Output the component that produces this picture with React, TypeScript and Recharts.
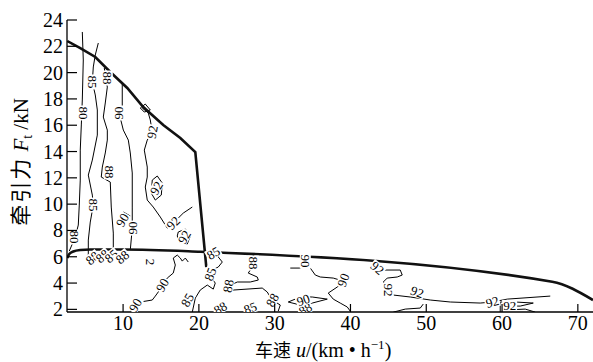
import { ComposedChart, Line, Scatter, XAxis, YAxis, Label } from 'recharts';

type Pt = [number, number];

// axis ticks
const xTicks = [10, 20, 30, 40, 50, 60, 70];
const yTicks = [2, 4, 6, 8, 10, 12, 14, 16, 18, 20, 22, 24];

// external characteristic (thick boundary lines), [speed, force]
const peakLimit: Pt[] = [[2.64, 22.4], [4.35, 21.87], [6.33, 21.19], [8.31, 20.05], [10.55, 18.83], [12.66, 17.38], [15.3, 16.02], [17.55, 15.03], [19.53, 13.96], [20.98, 5.22]];
const ratedLimit: Pt[] = [[2.64, 5.9], [2.9, 6.21], [3.43, 6.4], [4.35, 6.51], [5.67, 6.55], [10.03, 6.55], [20.18, 6.38], [66.62, 4.1], [72, 2.71]];

// efficiency contours (%)
const eff80: Pt[] = [[4.62, 23.09], [4.75, 20.96], [4.62, 17.92], [4.49, 16.02], [4.35, 14.11], [4.35, 11.83], [4.22, 9.93], [4.09, 8.41], [3.69, 7.5], [2.9, 6.43]];
const eff85: Pt[] = [[6.73, 22.25], [6.33, 21.34], [6.07, 20.43], [5.94, 19.29], [6.33, 18.3], [6.6, 17.16], [6.6, 15.25], [5.94, 13.35], [5.41, 12.21], [5.94, 10.69], [6.07, 9.93], [5.67, 8.64], [5.41, 7.27], [5.41, 6.05]];
const eff88: Pt[] = [[7.52, 20.35], [7.65, 19.82], [7.92, 18.9], [7.65, 17.69], [7.39, 16.62], [7.92, 15.63], [7.92, 14.87], [7.65, 13.89], [7.26, 12.82], [7.12, 12.06], [8.31, 11.68], [8.44, 9.78], [8.71, 7.8], [8.71, 6.51]];
const eff90: Pt[] = [[9.89, 19.21], [9.89, 17.38], [9.63, 16.55], [10.03, 15.63], [10.69, 14.87], [10.95, 13.89], [11.21, 12.37], [11.21, 9.78], [11.21, 8.18], [10.95, 6.51]];
const eff90Hook: Pt[] = [[9.23, 8.64], [10.03, 9.4], [10.95, 9.1]];
const eff92: Pt[] = [[12.53, 17.31], [13.32, 16.93], [13.59, 16.4], [13.85, 15.48], [13.19, 14.87], [12.8, 14.11], [13.19, 12.82], [13.19, 12.06], [12.93, 11.3], [13.19, 10.31], [13.98, 9.78], [14.91, 9.02], [15.83, 8.18], [16.62, 8.56], [17.94, 9.32], [19.13, 9.78]];
const eff92Top: Pt[] = [[12.27, 17.31], [12.93, 17.61], [13.59, 17.16], [12.8, 17.0], [12.27, 17.31]];
const eff92LoopA: Pt[] = [[13.85, 11.83], [14.51, 12.14], [15.17, 11.6], [15.04, 10.69], [14.25, 10.31], [13.72, 10.84], [13.85, 11.83]];
const eff92LoopB: Pt[] = [[17.28, 7.88], [18.21, 8.11], [18.87, 7.58], [18.47, 6.97], [17.41, 7.12], [17.15, 7.58], [17.28, 7.88]];
const low90A: Pt[] = [[10.95, 1.87], [12.27, 2.56], [13.85, 2.71], [14.25, 3.01], [14.64, 3.32], [15.17, 3.85], [15.83, 4.38], [16.62, 4.76], [16.89, 5.37], [16.62, 5.9], [17.15, 6.13], [17.55, 5.9], [17.81, 5.67], [18.21, 5.9], [18.6, 5.6]];
const low85: Pt[] = [[19.13, 1.79], [19.53, 2.86], [20.18, 3.47], [21.11, 3.85], [21.9, 3.54], [22.16, 4.0], [21.5, 4.53], [21.77, 4.99], [22.56, 5.22], [23.09, 5.6], [22.56, 5.98], [22.16, 6.28]];
const low88: Pt[] = [[27.18, 6.13], [26.78, 4.99], [26.52, 4.76], [27.7, 4.46], [27.84, 4.23], [26.78, 4.08], [25.07, 4.08], [23.88, 3.77], [24.54, 3.47], [28.36, 3.62], [29.02, 3.32], [29.42, 2.94], [29.68, 2.71], [30.74, 2.33], [30.47, 1.87]];
const low90B: Pt[] = [[32.06, 5.14], [33.38, 5.14], [34.04, 5.44], [34.7, 5.14], [35.36, 4.61], [36.02, 4.46], [37.73, 4.38], [39.05, 4.15], [38.26, 3.7], [37.07, 3.24], [37.73, 2.78], [38.65, 2.48], [39.58, 2.18], [39.97, 1.87]];
const lens90: Pt[] = [[31.79, 2.56], [33.38, 2.94], [34.96, 2.94], [36.94, 2.78], [34.96, 2.48], [33.38, 2.33], [31.79, 2.56]];
const low92: Pt[] = [[44.33, 4.99], [46.57, 4.99], [46.83, 4.61], [46.17, 4.46], [44.85, 4.38], [44.33, 4.08], [45.25, 3.32], [45.65, 3.09], [47.89, 2.94], [50.53, 2.71], [53.17, 2.56], [57.12, 2.48], [58.71, 2.56], [60.69, 2.78], [66.36, 3.01]];
const near50: Pt[] = [[45.65, 1.79], [47.23, 2.02], [49.21, 2.1], [49.6, 2.4]];
const near60a: Pt[] = [[59.76, 1.79], [59.76, 2.56], [61.74, 2.56], [64.12, 2.48], [62.4, 2.25], [60.42, 2.25]];
const near60b: Pt[] = [[60.42, 1.95], [63.06, 2.02], [64.38, 1.79]];

const contours = [eff80, eff85, eff88, eff90, eff90Hook, eff92, eff92Top, eff92LoopA, eff92LoopB, low90A, low85, low88, low90B, lens90, low92, near50, near60a, near60b];

// contour labels: [speed, force, text, angle]
const contourLabels: [number, number, string, number][] = [
  [4.75, 16.93, '80', 90], [3.56, 7.5, '80', 90],
  [5.94, 19.29, '85', 90], [6.07, 9.93, '85', 90],
  [7.92, 19.59, '88', 90], [8.18, 12.44, '88', 90],
  [9.37, 16.93, '90', -90], [11.21, 8.18, '90', -90], [9.89, 8.79, '90', -60],
  [13.85, 15.48, '92', -80], [16.62, 8.56, '92', -45], [14.38, 11.22, '92', -60], [18.07, 7.5, '92', -60],
  [5.94, 5.9, '88', -40], [7.26, 6.05, '88', -40], [8.44, 6.05, '85', -40], [9.89, 5.98, '88', -40],
  [13.59, 5.6, '2', 90],
  [11.61, 2.33, '90', -60], [15.17, 3.85, '90', -60],
  [18.47, 2.71, '85', -60], [21.5, 4.68, '85', -70], [21.9, 6.28, '85', -30],
  [27.18, 5.52, '88', 90], [23.88, 3.77, '88', -80], [29.68, 2.71, '88', -60],
  [22.83, 2.1, '88', -30], [26.78, 2.1, '85', -20], [34.04, 2.02, '88', -30],
  [34.04, 5.67, '90', 90], [39.05, 4.23, '90', -70], [33.77, 2.71, '90', -20],
  [43.54, 5.14, '92', 40], [44.99, 3.47, '92', 90], [48.81, 3.32, '92', 20], [58.71, 2.56, '92', -15], [61.0, 2.3, '92', 0],
];

const toRows = (pts: Pt[]) => pts.map(([u, f]) => ({ u, f }));
const labelRows = contourLabels.map(([u, f, text, angle]) => ({ u, f, text, angle }));

const serif = '"Liberation Serif", "Times New Roman", serif';
const cjk = '"Noto Sans CJK SC", sans-serif';

const ContourLabel = (props: any) => {
  const { cx, cy, payload } = props;
  const w = payload.text.length * 7 + 1;
  return (
    <g transform={`translate(${cx},${cy}) rotate(${payload.angle})`}>
      <rect x={-w / 2} y={-5.5} width={w} height={11} fill="#fff" />
      <text textAnchor="middle" dy={4.5} fontSize={13} fontFamily={serif} fill="#000">
        {payload.text}
      </text>
    </g>
  );
};

const XTick = (props: any) => {
  const { x, y, payload } = props;
  return (
    <g>
      <line x1={x} y1={y} x2={x} y2={y - 8} stroke="#000" strokeWidth={1.2} />
      <text x={x} y={y + 18} textAnchor="middle" fontSize={20} fontFamily={serif} fill="#000">
        {payload.value}
      </text>
    </g>
  );
};

const YTick = (props: any) => {
  const { x, y, payload } = props;
  return (
    <g>
      <line x1={x} y1={y} x2={x + 10} y2={y} stroke="#000" strokeWidth={1.2} />
      <text x={x - 4} y={y + 7} textAnchor="end" fontSize={20} fontFamily={serif} fill="#000">
        {payload.value}
      </text>
    </g>
  );
};

const YTitle = () => (
  <text transform="translate(28,162) rotate(-90)" textAnchor="middle" fontSize={21} fontFamily={serif} fill="#000" stroke="none">
    <tspan fontFamily={cjk} fontSize={21} letterSpacing={2} fill="#000">牵引力</tspan>
    <tspan fill="#000">  </tspan>
    <tspan fontStyle="italic" fill="#000">F</tspan>
    <tspan fontSize={14} dy={4} fill="#000">t</tspan>
    <tspan dy={-4} fill="#000"> /kN</tspan>
  </text>
);

const XTitle = () => (
  <text x={255} y={357} fontSize={20} fontFamily={serif} fill="#000" stroke="none">
    <tspan fontFamily={cjk} fontSize={18} fill="#000">车速</tspan>
    <tspan fill="#000">  </tspan>
    <tspan fontStyle="italic" fill="#000">u</tspan>
    <tspan fill="#000">/(km • h</tspan>
    <tspan fontSize={13} dy={-8} fill="#000">−1</tspan>
    <tspan dy={8} fill="#000">)</tspan>
  </text>
);

export default function App() {
  return (
    <div style={{ position: 'absolute', left: 0, top: 0, width: 593, height: 362, background: '#fff' }}>
      <ComposedChart width={593} height={362} margin={{ top: 20, right: 0, bottom: 0, left: 0 }}>
        <XAxis
          type="number"
          dataKey="u"
          domain={[2.6, 72]}
          ticks={xTicks}
          allowDataOverflow
          height={50}
          tickLine={false}
          tickSize={0}
          tickMargin={0}
          tick={<XTick />}
          axisLine={{ stroke: '#000', strokeWidth: 1.3 }}
        >
          <Label content={<XTitle />} />
        </XAxis>
        <YAxis
          type="number"
          dataKey="f"
          domain={[1.8, 24]}
          ticks={yTicks}
          allowDataOverflow
          width={67}
          tickLine={false}
          tickSize={0}
          tickMargin={0}
          tick={<YTick />}
          axisLine={{ stroke: '#000', strokeWidth: 1.3 }}
        >
          <Label content={<YTitle />} />
        </YAxis>
        {contours.map((pts, i) => (
          <Line
            key={`c${i}`}
            data={toRows(pts)}
            dataKey="f"
            type="linear"
            stroke="#000"
            strokeWidth={1}
            dot={false}
            activeDot={false}
            isAnimationActive={false}
          />
        ))}
        <Scatter data={labelRows} dataKey="f" shape={<ContourLabel />} isAnimationActive={false} />
        <Line data={toRows(peakLimit)} dataKey="f" type="linear" stroke="#111" strokeWidth={2.6} dot={false} activeDot={false} isAnimationActive={false} />
        <Line data={toRows(ratedLimit)} dataKey="f" type="monotone" stroke="#111" strokeWidth={2.6} dot={false} activeDot={false} isAnimationActive={false} />
      </ComposedChart>
    </div>
  );
}
